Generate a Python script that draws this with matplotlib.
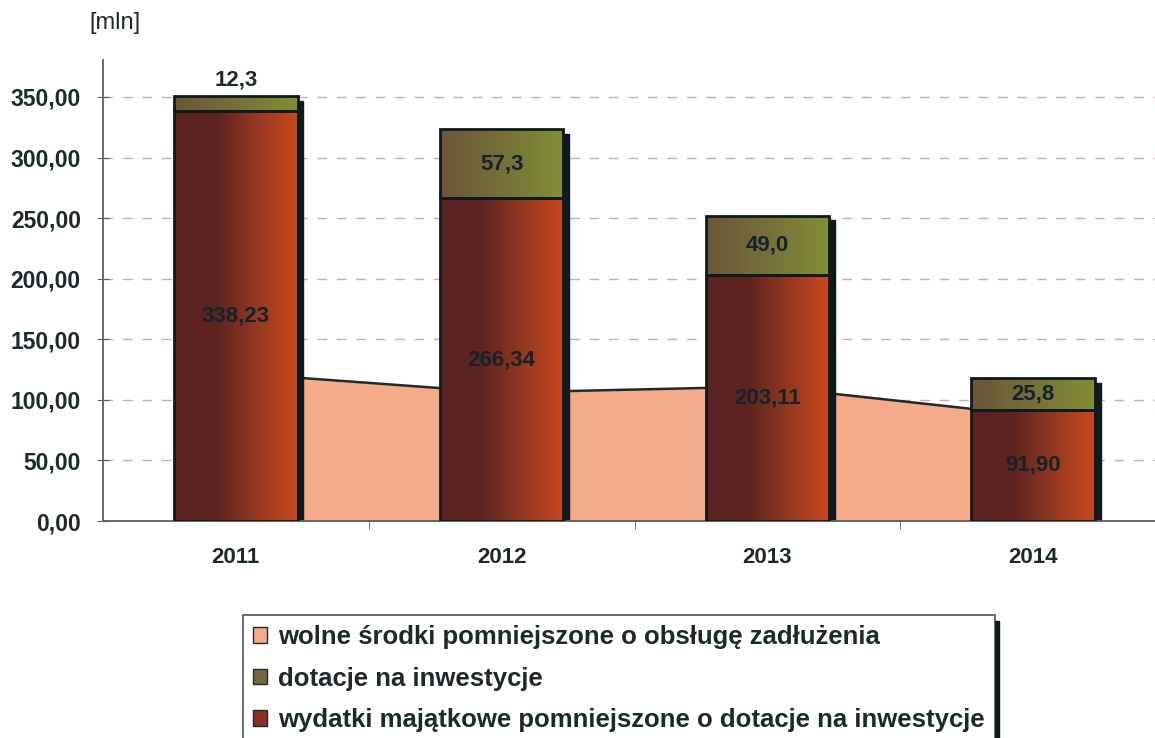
import numpy as np
import matplotlib.pyplot as plt
from matplotlib.patches import Rectangle
from matplotlib.colors import LinearSegmentedColormap

# data [mln]
years = ['2011', '2012', '2013', '2014']
wydatki = [338.23, 266.34, 203.11, 91.90]   # wydatki majątkowe pomniejszone o dotacje
dotacje = [12.3, 57.3, 49.0, 25.8]          # dotacje na inwestycje
wolne = [122.0, 106.0, 111.0, 87.0]         # wolne środki pomniejszone o obsługę zadłużenia
yticks = [0, 50, 100, 150, 200, 250, 300, 350]

plt.rcParams['font.family'] = ['Liberation Sans', 'DejaVu Sans']
txt_col = '#1b2a2c'

red_cmap = LinearSegmentedColormap.from_list(
    'red', [(0, '#5a2222'), (0.35, '#5e2420'), (0.7, '#9a3a22'), (1, '#c8481f')])
green_cmap = LinearSegmentedColormap.from_list(
    'green', [(0, '#6c5638'), (0.5, '#75703a'), (1, '#828e36')])
grad = np.linspace(0, 1, 256).reshape(1, -1)

fig = plt.figure(figsize=(11.55, 7.38), dpi=100)
ax = fig.add_axes([103 / 1155, 1 - 521 / 738, (1166 - 103) / 1155, (521 - 60) / 738])
ax.set_xlim(-0.5, 3.5)
ax.set_ylim(0, 380.5)

x = np.arange(len(years))

# area behind the bars
ax.fill_between(x, 0, wolne, color='#f5aa8a', zorder=1, lw=0)
ax.plot(x, wolne, color='#1e2a2c', lw=1.8, zorder=1.5)

# gridlines
for t in yticks[1:]:
    ax.axhline(t, color='#c8a8c4', lw=1, dashes=(7, 7), zorder=0.5)

w = 0.464
for i in range(len(years)):
    left = x[i] - w / 2
    top = wydatki[i] + dotacje[i]
    # shadow on the right side
    ax.add_patch(Rectangle((left + w, 0), 0.022, top - 4, color='#0f1a1c', zorder=2))
    for y0, h, cmap in [(0, wydatki[i], red_cmap), (wydatki[i], dotacje[i], green_cmap)]:
        rect = Rectangle((left, y0), w, h, facecolor='none', edgecolor='#0f1a1c',
                         lw=2, zorder=3.5)
        ax.add_patch(rect)
        im = ax.imshow(grad, cmap=cmap, aspect='auto', extent=[left, left + w, y0, y0 + h],
                       zorder=3)
        im.set_clip_path(rect)
    # labels
    ax.text(x[i], wydatki[i] / 2, f'{wydatki[i]:.2f}'.replace('.', ','),
            ha='center', va='center', fontsize=16, fontweight='bold', color='#16222a', zorder=5)
    if dotacje[i] > 20:
        ax.text(x[i], wydatki[i] + dotacje[i] / 2, f'{dotacje[i]:.1f}'.replace('.', ','),
                ha='center', va='center', fontsize=16, fontweight='bold', color='#16222a', zorder=5)
    else:
        ax.text(x[i], top + 5, f'{dotacje[i]:.1f}'.replace('.', ','),
                ha='center', va='bottom', fontsize=16, fontweight='bold', color=txt_col, zorder=5)

# axes styling
for s in ['top', 'right']:
    ax.spines[s].set_visible(False)
ax.spines['left'].set_color('#55606a')
ax.spines['bottom'].set_color('#55606a')
ax.spines['left'].set_linewidth(1.3)
ax.spines['bottom'].set_linewidth(1.3)
ax.set_yticks(yticks)
ax.set_yticklabels([f'{t:.2f}'.replace('.', ',') for t in yticks],
                   fontsize=16.5, fontweight='bold', color=txt_col)
ax.tick_params(axis='y', direction='inout', length=8, color='#55606a', pad=12)
ax.set_xticks(x)
ax.set_xticklabels(years, fontsize=16, fontweight='bold', color=txt_col)
ax.tick_params(axis='x', length=0, pad=19)
ax.set_xticks([0.5, 1.5, 2.5], minor=True)
ax.tick_params(axis='x', which='minor', length=6, color='#55606a', direction='out')

fig.text(89 / 1155, 1 - 23 / 738, '[mln]', fontsize=17, color=txt_col, va='center')

# legend
handles = [Rectangle((0, 0), 1, 1, facecolor='#f5aa8a', edgecolor='#1e2a2c'),
           Rectangle((0, 0), 1, 1, facecolor='#72663a', edgecolor='#1e2a2c'),
           Rectangle((0, 0), 1, 1, facecolor='#8a3020', edgecolor='#1e2a2c')]
labels = ['wolne środki pomniejszone o obsługę zadłużenia',
          'dotacje na inwestycje',
          'wydatki majątkowe pomniejszone o dotacje na inwestycje']
leg = fig.legend(handles, labels, loc='upper left', bbox_to_anchor=(243 / 1155, 1 - 615 / 738),
                 frameon=True, fancybox=False, fontsize=18.5, handlelength=0.55, handleheight=0.55,
                 handletextpad=0.4, labelspacing=0.68, borderpad=0.4, borderaxespad=0)
leg.get_frame().set_edgecolor('#1e2a2c')
leg.get_frame().set_linewidth(1.2)
for t in leg.get_texts():
    t.set_fontweight('bold')
    t.set_color(txt_col)

# dark shadow on the right edge of the legend box
fig.canvas.draw()
bb = leg.get_window_extent().transformed(fig.transFigure.inverted())
fig.patches.append(Rectangle((bb.x1, bb.y0), 4 / 1155, bb.height - 6 / 738,
                             transform=fig.transFigure, color='#0f1a1c'))

fig.savefig('out.png', dpi=100)
